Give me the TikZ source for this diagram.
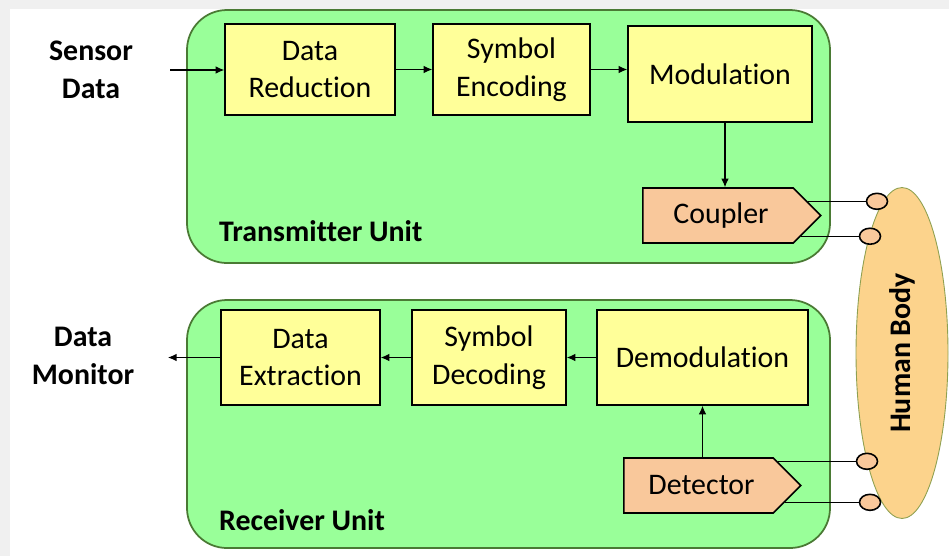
\documentclass[tikz,border=0pt]{standalone}
\usepackage{fontspec}
\setmainfont{Carlito}[Ligatures=NoCommon]
\usetikzlibrary{arrows.meta,positioning,shapes.geometric,shapes.symbols}
\definecolor{unitgreen}{HTML}{99FF99}
\definecolor{unitedge}{HTML}{4A7A34}
\definecolor{blockyellow}{HTML}{FFFF99}
\definecolor{padorange}{HTML}{F9C89B}
\definecolor{bodyorange}{HTML}{FCD38C}
\definecolor{bodyedge}{HTML}{8FA050}
\definecolor{bggray}{HTML}{F0F0F0}
\tikzset{unit/.style={draw=unitedge, fill=unitgreen, line width=1pt, rounded corners=0.8cm}, blk/.style={draw=black, fill=blockyellow, line width=.9pt, align=center, font=\fontsize{17}{21.5}\selectfont, inner sep=0pt}, port/.style={signal, signal to=east, draw=black, fill=padorange, line width=.9pt, font=\fontsize{17}{21.5}\selectfont, inner sep=0pt}, flow/.style={-{Latex[length=1.7mm,width=1.5mm]}, line width=.6pt}, wire/.style={line width=.6pt}, pad/.style={ellipse, draw=black, fill=padorange, line width=.9pt, minimum width=.42cm, minimum height=.32cm, inner sep=0pt}, lab/.style={font=\bfseries\fontsize{17}{21.5}\selectfont, align=center}}

\begin{document}
\begin{tikzpicture}[x=0.02cm, y=-0.02cm]
\fill[bggray] (0,0) rectangle (949,556); \fill[white] (10,9) rectangle (949,556);
\useasboundingbox (0,0) rectangle (949,556);
\draw[unit] (187,10) rectangle (830,263); \draw[unit] (187,300) rectangle (830,548);
\node[ellipse, rotate=90, draw=bodyedge, fill=bodyorange, line width=.5pt, minimum width=6.62cm, minimum height=1.84cm, lab] (hbody) at (902,353) {Human Body};
\node[blk, minimum width=3.4cm, minimum height=1.82cm] (dred) at (310,69.5) {Data\\Reduction};
\node[blk, minimum width=3.14cm, minimum height=1.82cm] (senc) at (511.5,69.5) {Symbol\\Encoding};
\node[blk, minimum width=3.68cm, minimum height=1.92cm] (modu) at (720,74) {Modulation};
\node[port, minimum width=3.56cm, minimum height=1.1cm, anchor=west] (coupler) at (642,215.5) {\hspace*{.12cm}Coupler};
\node[blk, minimum width=3.18cm, minimum height=1.9cm] (dext) at (300.5,357.5) {Data\\Extraction};
\node[blk, minimum width=3.08cm, minimum height=1.9cm] (sdec) at (489,357.5) {Symbol\\Decoding};
\node[blk, minimum width=4.22cm, minimum height=1.9cm] (demo) at (702.5,357.5) {Demodulation};
\node[port, minimum width=3.54cm, minimum height=1.1cm, anchor=west] (det) at (623,485.5) {\hspace*{.12cm}Detector};
\node[lab] (sensor) at (91,70) {Sensor\\Data}; \node[lab] (monitor) at (83,356) {Data\\Monitor};
\node[lab, anchor=west] (txlab) at (213,231) {Transmitter Unit}; \node[lab, anchor=west] (rxlab) at (213,520) {Receiver Unit};
\coordinate (sin) at (170,70); \coordinate (mout) at (168,357);
\draw[flow] (sin) -- (sin -| dred.west); \draw[flow] (dred) -- (senc); \draw[flow] (senc.east) -- (senc.east -| modu.west);
\draw[flow] (modu.south -| 725,0) -- (coupler.north -| 725,0);
\draw[flow] (demo.west) -- (demo.west -| sdec.east); \draw[flow] (sdec) -- (dext); \draw[flow] (dext.west) -- (dext.west -| mout);
\draw[flow] (det.north -| demo.south) -- (demo.south);
\node[pad] (ta) at (877,0 |- coupler.9) {}; \node[pad] (tb) at (870,0 |- coupler.-14) {};
\node[pad] (ra) at (867,0 |- det.17) {}; \node[pad] (rb) at (870,0 |- det.-11) {};
\draw[wire] (coupler.9) -- (ta); \draw[wire] (coupler.-14) -- (tb);
\draw[wire] (det.17) -- (ra); \draw[wire] (det.-11) -- (rb);
\end{tikzpicture}
\end{document}
